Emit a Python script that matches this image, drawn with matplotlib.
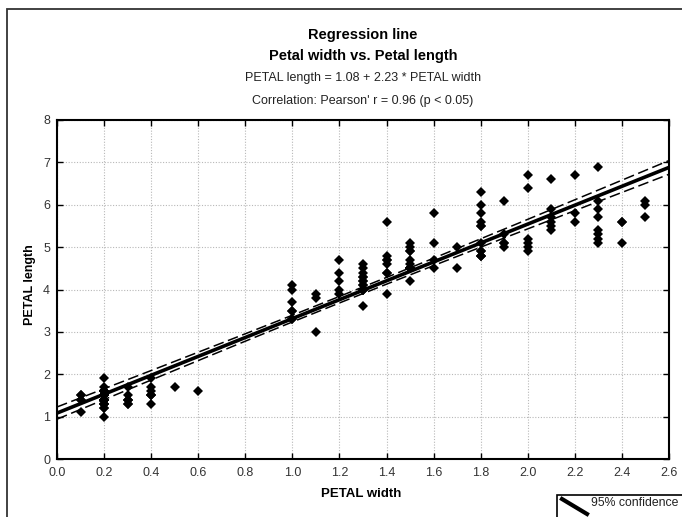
import numpy as np
import matplotlib
matplotlib.use("Agg")
import matplotlib.pyplot as plt
from matplotlib.patches import Rectangle
from matplotlib.lines import Line2D

plt.rcParams['font.family'] = ['Liberation Sans', 'DejaVu Sans']

# Iris data: petal width (x) and petal length (y)
petal_width = [
    0.2, 0.2, 0.2, 0.2, 0.2, 0.4, 0.3, 0.2, 0.2, 0.1,
    0.2, 0.2, 0.1, 0.1, 0.2, 0.4, 0.4, 0.3, 0.3, 0.3,
    0.2, 0.4, 0.2, 0.5, 0.2, 0.2, 0.4, 0.2, 0.2, 0.2,
    0.2, 0.4, 0.1, 0.2, 0.2, 0.2, 0.2, 0.1, 0.2, 0.2,
    0.3, 0.3, 0.2, 0.6, 0.4, 0.3, 0.2, 0.2, 0.2, 0.2,
    1.4, 1.5, 1.5, 1.3, 1.5, 1.3, 1.6, 1.0, 1.3, 1.4,
    1.0, 1.5, 1.0, 1.4, 1.3, 1.4, 1.5, 1.0, 1.5, 1.1,
    1.8, 1.3, 1.5, 1.2, 1.3, 1.4, 1.4, 1.7, 1.5, 1.0,
    1.1, 1.0, 1.2, 1.6, 1.5, 1.6, 1.5, 1.3, 1.3, 1.3,
    1.2, 1.4, 1.2, 1.0, 1.3, 1.2, 1.3, 1.3, 1.1, 1.3,
    2.5, 1.9, 2.1, 1.8, 2.2, 2.1, 1.7, 1.8, 1.8, 2.5,
    2.0, 1.9, 2.1, 2.0, 2.4, 2.3, 1.8, 2.2, 2.3, 1.5,
    2.3, 2.0, 2.0, 1.8, 2.1, 1.8, 1.8, 1.8, 2.1, 1.6,
    1.9, 2.0, 2.2, 1.5, 1.4, 2.3, 2.4, 1.8, 1.8, 2.1,
    2.4, 2.3, 1.9, 2.3, 2.5, 2.3, 1.9, 2.0, 2.3, 1.8,
]
petal_length = [
    1.4, 1.4, 1.3, 1.5, 1.4, 1.7, 1.4, 1.5, 1.4, 1.5,
    1.5, 1.6, 1.4, 1.1, 1.2, 1.5, 1.3, 1.4, 1.7, 1.5,
    1.7, 1.5, 1.0, 1.7, 1.9, 1.6, 1.6, 1.5, 1.4, 1.6,
    1.6, 1.5, 1.5, 1.4, 1.5, 1.2, 1.3, 1.4, 1.3, 1.5,
    1.3, 1.3, 1.3, 1.6, 1.9, 1.4, 1.6, 1.4, 1.5, 1.4,
    4.7, 4.5, 4.9, 4.0, 4.6, 4.5, 4.7, 3.3, 4.6, 3.9,
    3.5, 4.2, 4.0, 4.7, 3.6, 4.4, 4.5, 4.1, 4.5, 3.9,
    4.8, 4.0, 4.9, 4.7, 4.3, 4.4, 4.8, 5.0, 4.5, 3.5,
    3.8, 3.7, 3.9, 5.1, 4.5, 4.5, 4.7, 4.4, 4.1, 4.0,
    4.4, 4.6, 4.0, 3.3, 4.2, 4.2, 4.2, 4.3, 3.0, 4.1,
    6.0, 5.1, 5.9, 5.6, 5.8, 6.6, 4.5, 6.3, 5.8, 6.1,
    5.1, 5.3, 5.5, 5.0, 5.1, 5.3, 5.5, 6.7, 6.9, 5.0,
    5.7, 4.9, 6.7, 4.9, 5.7, 6.0, 4.8, 4.9, 5.6, 5.8,
    6.1, 6.4, 5.6, 5.1, 5.6, 6.1, 5.6, 5.5, 4.8, 5.4,
    5.6, 5.1, 5.1, 5.9, 5.7, 5.2, 5.0, 5.2, 5.4, 5.1,
]

x_ticks = [0.0, 0.2, 0.4, 0.6, 0.8, 1.0, 1.2, 1.4, 1.6, 1.8, 2.0, 2.2, 2.4, 2.6]
y_ticks = [0, 1, 2, 3, 4, 5, 6, 7, 8]

title1 = "Regression line"
title2 = "Petal width vs. Petal length"
eq_text = "PETAL length = 1.08 + 2.23 * PETAL width"
corr_text = "Correlation: Pearson' r = 0.96 (p < 0.05)"

W, H = 682, 517
fig = plt.figure(figsize=(W / 100, H / 100), dpi=100)

def fx(px):
    return px / W

def fy(py):
    return 1 - py / H

ax = fig.add_axes([fx(57), fy(459), fx(669) - fx(57), fy(120) - fy(459)])

x = np.array(petal_width)
y = np.array(petal_length)
n = len(x)
slope, intercept = np.polyfit(x, y, 1)
resid = y - (intercept + slope * x)
s = np.sqrt(np.sum(resid ** 2) / (n - 2))
sxx = np.sum((x - x.mean()) ** 2)
t = 1.976

xl = np.linspace(0.0, 2.6, 200)
yl = intercept + slope * xl
se = s * np.sqrt(1.0 / n + (xl - x.mean()) ** 2 / sxx)

ax.plot(xl, yl + t * se, color='black', lw=1.1, dashes=(7, 3), zorder=3)
ax.plot(xl, yl - t * se, color='black', lw=1.1, dashes=(7, 3), zorder=3)
ax.plot(xl, yl, color='black', lw=2.6, zorder=4)
ax.plot(x, y, linestyle='none', marker='D', ms=4.7, color='black',
        markeredgewidth=0, zorder=5)

ax.set_xlim(0.0, 2.6)
ax.set_ylim(0, 8)
ax.set_xticks(x_ticks)
ax.set_xticklabels([f"{v:.1f}" for v in x_ticks])
ax.set_yticks(y_ticks)
ax.set_yticklabels([str(v) for v in y_ticks])
ax.grid(True, linestyle=(0, (1, 1.5)), color='#b8b8b8', lw=0.8)
ax.set_axisbelow(True)
ax.tick_params(direction='in', length=4, width=1, top=True, right=True,
               labelsize=9, colors='black', labelcolor='#333333')
ax.tick_params(axis='x', pad=6)
ax.tick_params(axis='y', pad=5)
for sp in ax.spines.values():
    sp.set_linewidth(1.5)
    sp.set_color('black')

fig.text(fx(30), fy(285), "PETAL length", rotation=90, ha='center', va='center',
         fontsize=9, fontweight='bold')
fig.text(fx(361), fy(494), "PETAL width", ha='center', va='center',
         fontsize=9.5, fontweight='bold')

fig.text(fx(363), fy(35), title1, ha='center', va='center', fontsize=10.5, fontweight='bold')
fig.text(fx(363), fy(56), title2, ha='center', va='center', fontsize=10.5, fontweight='bold')
fig.text(fx(363), fy(78), eq_text, ha='center', va='center', fontsize=9, color='#222222')
fig.text(fx(363), fy(101), corr_text, ha='center', va='center', fontsize=9, color='#222222')

# figure border
fig.patches.append(Rectangle((fx(7), -0.1), 1.2, fy(9) + 0.1, transform=fig.transFigure,
                             fill=False, edgecolor='#333333', lw=1.3))
# legend box (clipped at the figure edge)
fig.patches.append(Rectangle((fx(557), -0.1), 0.5, fy(495) + 0.1, transform=fig.transFigure,
                             fill=True, facecolor='white', edgecolor='black', lw=1.2))
fig.lines.append(Line2D([fx(562), fx(587)], [fy(499), fy(514)], transform=fig.transFigure,
                        color='black', lw=3))
fig.text(fx(591), fy(503), "95% confidence", ha='left', va='center', fontsize=8.8,
         color='#222222')

fig.savefig("out.png", dpi=100)
